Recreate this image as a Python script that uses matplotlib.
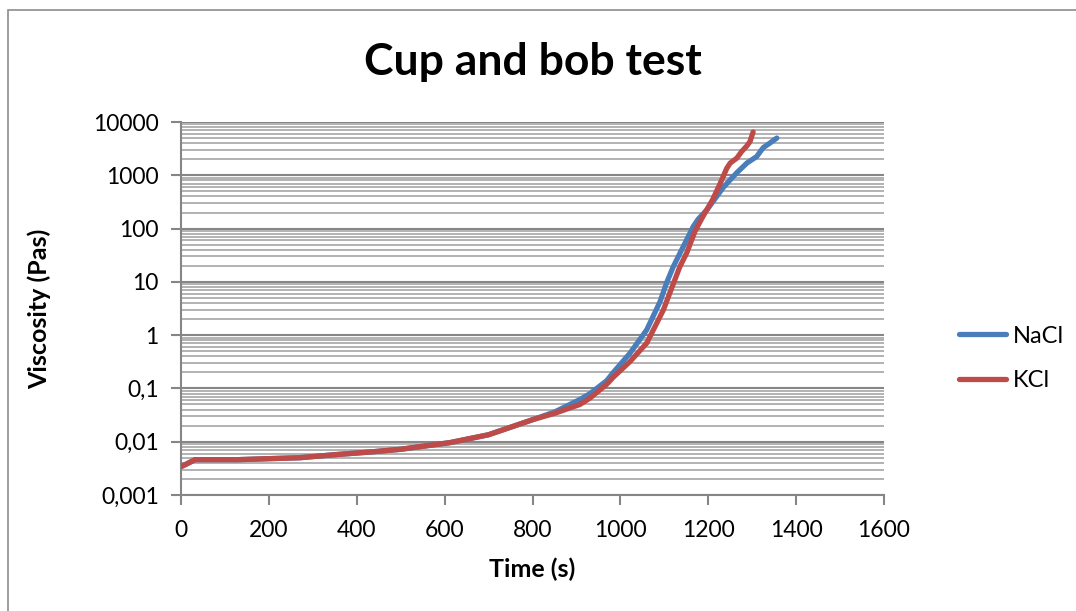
import numpy as np
import matplotlib.pyplot as plt
from matplotlib.patches import Rectangle

# values
nacl_t = [0, 15, 32, 60, 100, 130, 200, 270, 350, 430, 500, 612, 700, 801, 850, 908, 931, 969, 984,
          1022, 1060, 1090, 1105, 1120, 1136, 1166, 1177, 1197, 1234, 1265, 1288, 1310, 1325, 1341, 1356]
nacl_v = [0.0034, 0.0039, 0.0046, 0.0046, 0.0046, 0.0046, 0.0048, 0.005, 0.0057, 0.0064, 0.0072, 0.0096, 0.0135, 0.026, 0.036, 0.062, 0.08, 0.14, 0.2,
          0.46, 1.26, 4.2, 9.5, 19, 35, 110, 150, 225, 590, 1120, 1700, 2240, 3300, 4070, 5000]

kcl_t = [0, 15, 32, 60, 100, 130, 200, 270, 350, 430, 500, 612, 700, 801, 850, 908, 931, 969, 984,
         1022, 1060, 1098, 1120, 1135, 1151, 1170, 1188, 1210, 1227, 1242, 1250, 1265, 1276, 1287, 1295, 1302]
kcl_v = [0.0034, 0.0039, 0.0046, 0.0046, 0.0046, 0.0046, 0.0048, 0.005, 0.0057, 0.0064, 0.0072, 0.0096, 0.0135, 0.026, 0.034, 0.05, 0.066, 0.12, 0.163,
         0.32, 0.71, 3.0, 9, 19, 35, 90, 170, 350, 700, 1350, 1700, 2100, 2800, 3500, 4300, 6500]

y_ticks = [0.001, 0.01, 0.1, 1, 10, 100, 1000, 10000]
y_labels = ['0,001', '0,01', '0,1', '1', '10', '100', '1000', '10000']

plt.rcParams['font.family'] = ['Lato', 'DejaVu Sans']

fig = plt.figure(figsize=(10.76, 6.11), dpi=100)
ax = fig.add_axes([0.1682, 0.1899, 0.6534, 0.6104])

# chart border
fig.patches.append(Rectangle((8 / 1076, -0.1), 1.2, 1 - 10 / 611 + 0.1, transform=fig.transFigure,
                             fill=False, edgecolor='#8c8c8c', linewidth=1.2))

ax.set_yscale('log')
ax.set_ylim(0.001, 10000)
ax.set_xlim(0, 1600)

ax.plot(nacl_t, nacl_v, color='#4a7ebb', linewidth=3.8, solid_capstyle='round', label='NaCl', zorder=3)
ax.plot(kcl_t, kcl_v, color='#be4b48', linewidth=3.8, solid_capstyle='round', label='KCl', zorder=4)

ax.set_yticks(y_ticks)
ax.set_yticklabels(y_labels)
ax.set_xticks(np.arange(0, 1601, 200))
ax.yaxis.set_minor_locator(plt.matplotlib.ticker.LogLocator(base=10, subs=np.arange(2, 10), numticks=20))
ax.yaxis.set_minor_formatter(plt.NullFormatter())

ax.grid(True, which='major', axis='y', color='#868686', linewidth=1.5)
ax.grid(True, which='minor', axis='y', color='#adadad', linewidth=1.3)
ax.set_axisbelow(True)

for s in ['top', 'right']:
    ax.spines[s].set_visible(False)
for s in ['left', 'bottom']:
    ax.spines[s].set_color('#868686')
    ax.spines[s].set_linewidth(1.5)

ax.tick_params(axis='both', which='major', labelsize=16.5, color='#868686', width=1.5, length=7)
ax.tick_params(axis='y', which='minor', length=0)
ax.tick_params(axis='x', pad=11)
ax.tick_params(axis='y', pad=9)

ax.set_title('Cup and bob test', fontsize=32, fontweight='bold', pad=34)
ax.set_xlabel('Time (s)', fontsize=18, fontweight='bold', labelpad=12)
ax.set_ylabel('Viscosity (Pas)', fontsize=18, fontweight='bold', labelpad=30)

ax.legend(loc='center left', bbox_to_anchor=(1.076, 0.366), frameon=False, fontsize=17,
          handlelength=2.0, handletextpad=0.3, labelspacing=1.0)

fig.savefig('out.png', dpi=100)
